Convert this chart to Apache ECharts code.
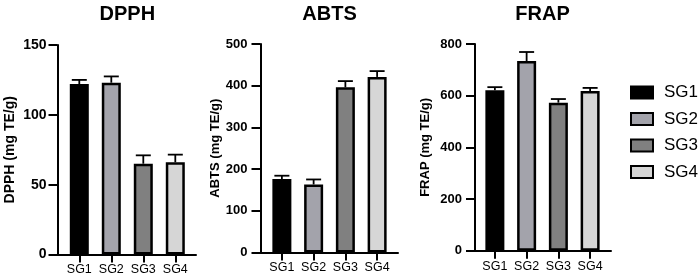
<!DOCTYPE html>
<html>
<head>
<meta charset="utf-8">
<script src="https://cdn.jsdelivr.net/npm/echarts@6/dist/echarts.min.js"></script>
<style>html,body{margin:0;padding:0;background:#fff}#c{width:699px;height:279px}</style>
</head>
<body>
<div id="c"></div>
<script>
const categories = ['SG1', 'SG2', 'SG3', 'SG4'];
const panelTitles = ['DPPH', 'ABTS', 'FRAP'];
const axisNames = ['DPPH (mg TE/g)', 'ABTS (mg TE/g)', 'FRAP (mg TE/g)'];
const dpphValues = [122, 123, 65, 66];
const dpphErrors = [3, 4.5, 6, 5.5];
const abtsValues = [176, 163, 396, 421];
const abtsErrors = [8, 12, 15, 14];
const frapValues = [621, 734, 573, 618];
const frapErrors = [12, 35, 14, 12];
const yMax = [150, 500, 800];
const yInterval = [50, 100, 200];

const barColors = ['#000000', '#a3a3ab', '#808080', '#d6d6d6'];
const FONT = '"Liberation Sans", Arial, Helvetica, sans-serif';

// layout per panel (pixels)
const layout = [
  { axisX: 57.5, catLeft: 63.3, catWidth: 128, lineEnd: 196, top: 45, zero: 254.5, nameGap: 40, nameSize: 14, labelSize: 14, labelMargin: 11 },
  { axisX: 260.5, catLeft: 266, catWidth: 127, lineEnd: 398, top: 44, zero: 252.4, nameGap: 31, nameSize: 13, labelSize: 13, labelMargin: 13 },
  { axisX: 475, catLeft: 479, catWidth: 127, lineEnd: 611, top: 44, zero: 250.7, nameGap: 43, nameSize: 13, labelSize: 13, labelMargin: 13 }
];
const values = [dpphValues, abtsValues, frapValues];
const errors = [dpphErrors, abtsErrors, frapErrors];

const grid = [], xAxis = [], yAxis = [], series = [], title = [];
layout.forEach((L, p) => {
  const h = L.zero - L.top;
  grid.push({ left: L.axisX, top: L.top, width: L.lineEnd - L.axisX, height: h, containLabel: false });
  grid.push({ left: L.catLeft, top: L.top, width: L.catWidth, height: h, containLabel: false });
  xAxis.push({
    gridIndex: 2 * p, type: 'value', min: 0, max: 1,
    axisLine: { show: true, lineStyle: { color: '#000', width: 2 } },
    axisTick: { show: false }, axisLabel: { show: false }, splitLine: { show: false }
  });
  xAxis.push({
    gridIndex: 2 * p + 1, type: 'category', data: categories,
    axisLine: { show: false },
    axisTick: { show: true, alignWithLabel: true, interval: 0, length: 8, lineStyle: { color: '#000', width: 2 } },
    axisLabel: { color: '#000', fontSize: 12.5, fontFamily: FONT, margin: 9, interval: 0, hideOverlap: false },
    splitLine: { show: false }
  });
  yAxis.push({
    gridIndex: 2 * p, type: 'value', min: 0, max: yMax[p], interval: yInterval[p],
    name: axisNames[p], nameLocation: 'middle', nameGap: L.nameGap,
    nameTextStyle: { color: '#000', fontSize: L.nameSize, fontWeight: 'bold', fontFamily: FONT },
    axisLine: { show: true, lineStyle: { color: '#000', width: 2 } },
    axisTick: { show: true, length: 9, lineStyle: { color: '#000', width: 2 } },
    axisLabel: { color: '#000', fontSize: L.labelSize, fontWeight: 'bold', fontFamily: FONT, margin: L.labelMargin },
    splitLine: { show: false }
  });
  yAxis.push({ gridIndex: 2 * p + 1, type: 'value', min: 0, max: yMax[p], show: false });
  // error bars (upper only, with cap)
  series.push({
    type: 'custom', xAxisIndex: 2 * p + 1, yAxisIndex: 2 * p + 1, z: 1,
    data: values[p].map((v, i) => [i, v, errors[p][i]]),
    renderItem: function (params, api) {
      const x = api.value(0), v = api.value(1), e = api.value(2);
      const base = api.coord([x, v]);
      const top = api.coord([x, v + e]);
      const hw = 7.5;
      return {
        type: 'group', children: [
          { type: 'line', shape: { x1: base[0], y1: base[1], x2: top[0], y2: top[1] }, style: { stroke: '#000', lineWidth: 1.8 } },
          { type: 'line', shape: { x1: top[0] - hw, y1: top[1], x2: top[0] + hw, y2: top[1] }, style: { stroke: '#000', lineWidth: 1.8 } }
        ]
      };
    }
  });
  categories.forEach((c, k) => {
    series.push({
      name: c, type: 'bar', xAxisIndex: 2 * p + 1, yAxisIndex: 2 * p + 1, z: 2,
      barWidth: 19, barGap: '-100%',
      data: values[p].map((v, i) => (i === k ? v : '-')),
      itemStyle: { color: barColors[k], borderColor: '#000', borderWidth: 2.5 }
    });
  });
  title.push({
    text: panelTitles[p], left: L.catLeft + L.catWidth / 2, top: 4, textAlign: 'center', padding: 0,
    textStyle: { color: '#000', fontSize: 20, fontWeight: 'bold', fontFamily: FONT }
  });
});

const chart = echarts.init(document.getElementById('c'), null, { renderer: 'canvas' });
chart.setOption({
  animation: false,
  backgroundColor: '#fff',
  title: title,
  legend: {
    data: categories, orient: 'vertical', left: 630, top: 84, padding: 0,
    icon: 'rect', itemWidth: 22, itemHeight: 12, itemGap: 9.5,
    selectedMode: false,
    textStyle: { color: '#000', fontSize: 17, fontFamily: FONT, padding: [0, 0, 0, 6] }
  },
  grid: grid, xAxis: xAxis, yAxis: yAxis, series: series
});
</script>
</body>
</html>
